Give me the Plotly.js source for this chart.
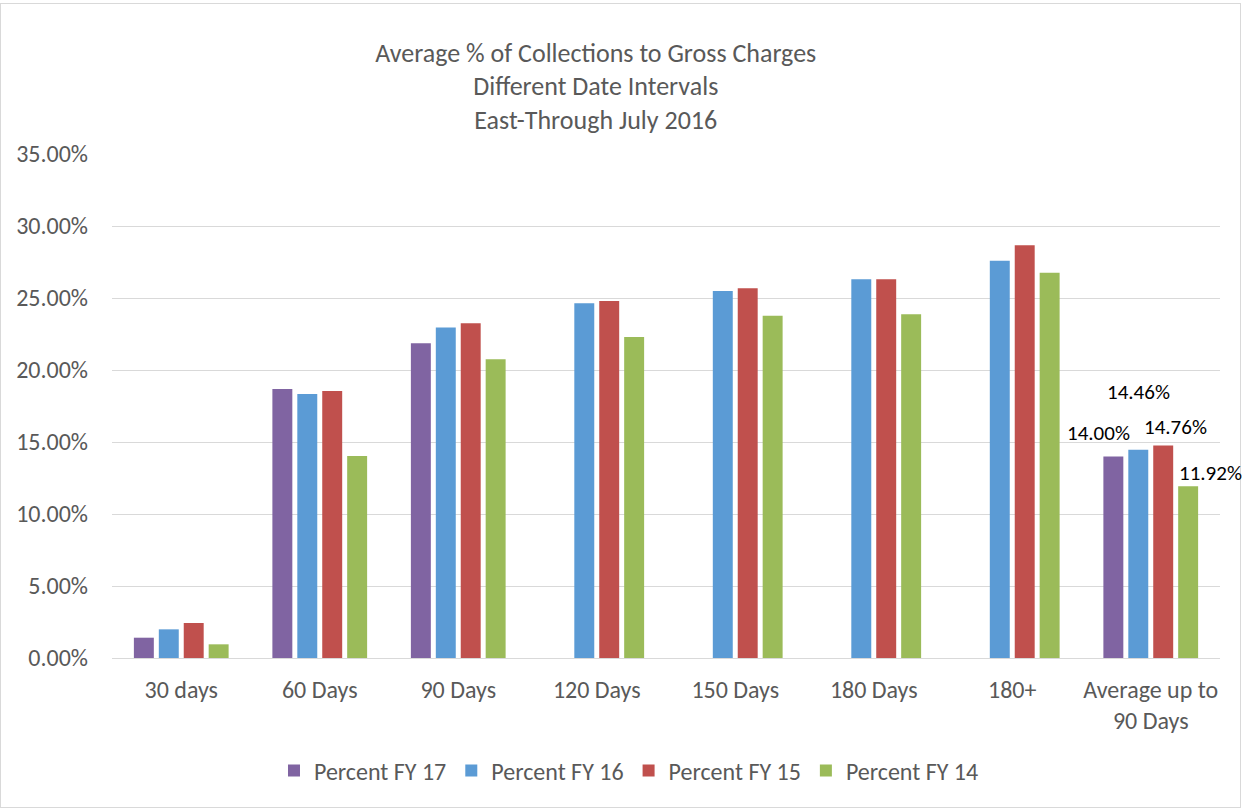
<!DOCTYPE html>
<html>
<head>
<meta charset="utf-8">
<script src="https://cdn.plot.ly/plotly-3.0.1.min.js"></script>
<style>
  html, body { margin: 0; padding: 0; background: #fff; }
  #frame { position: absolute; left: 0; top: 3px; width: 1239px; height: 803px; border: 1px solid #D9D9D9; }
  #chart { position: absolute; left: 0; top: 0; width: 1249px; height: 810px; }
</style>
</head>
<body>
<div id="frame"></div>
<div id="chart"></div>
<script>
const categories = ["30 days", "60 Days", "90 Days", "120 Days", "150 Days", "180 Days", "180+", "Average up to<br>90 Days"];
const seriesNames = ["Percent FY 17", "Percent FY 16", "Percent FY 15", "Percent FY 14"];
const fy17 = [1.41, 18.68, 21.85, null, null, null, null, 14.00];
const fy16 = [1.99, 18.33, 22.96, 24.64, 25.49, 26.30, 27.59, 14.46];
const fy15 = [2.43, 18.54, 23.24, 24.79, 25.67, 26.30, 28.66, 14.76];
const fy14 = [0.95, 14.03, 20.74, 22.29, 23.77, 23.87, 26.76, 11.92];
const yTicks = [0, 5, 10, 15, 20, 25, 30, 35];

const colors = ["#8064A2", "#5B9BD5", "#C0504D", "#9BBB59"];
const allSeries = [fy17, fy16, fy15, fy14];
const FONT = "Calibri, Carlito, Lato, 'Open Sans', sans-serif";

const traces = allSeries.map((vals, i) => ({
  type: "bar",
  name: seriesNames[i],
  x: categories,
  y: vals,
  marker: { color: colors[i], line: { width: 0 } },
  hoverinfo: "x+y+name"
}));

// data labels on the last category only
const lastIdx = categories.length - 1;
const labelOffsets = [
  { xs: -52, ys: 23 },
  { xs: -12, ys: 58 },
  { xs: 25, ys: 18 },
  { xs: 60, ys: 13 }
];
const annotations = allSeries.map((vals, i) => ({
  x: categories[lastIdx],
  y: vals[lastIdx],
  xref: "x", yref: "y",
  text: vals[lastIdx].toFixed(2) + "%",
  showarrow: false,
  xshift: labelOffsets[i].xs,
  yshift: labelOffsets[i].ys,
  font: { family: FONT, size: 21, color: "#000000" }
}));

const layout = {
  width: 1249, height: 810,
  paper_bgcolor: "rgba(0,0,0,0)",
  plot_bgcolor: "rgba(0,0,0,0)",
  margin: { l: 112, r: 29, t: 154, b: 152 },
  title: {
    text: "Average % of Collections to Gross Charges<br>Different Date Intervals<br>East-Through July 2016",
    font: { family: FONT, size: 26, color: "#595959" },
    x: 0.477, xanchor: "center",
    y: 0.924, yanchor: "top"
  },
  barmode: "group",
  bargap: 0.28,
  bargroupgap: 0.2,
  xaxis: {
    type: "category",
    range: [-0.5, categories.length - 0.5],
    autorange: false,
    showgrid: false,
    showline: true,
    linecolor: "#D9D9D9",
    linewidth: 1,
    ticks: "",
    ticklabelstandoff: 10,
    tickfont: { family: FONT, size: 24, color: "#595959" },
    fixedrange: true
  },
  yaxis: {
    range: [0, 35],
    autorange: false,
    tickvals: yTicks,
    ticktext: yTicks.map(v => v.toFixed(2) + "%"),
    showgrid: true,
    gridcolor: "#D9D9D9",
    gridwidth: 1,
    zeroline: false,
    showline: false,
    ticks: "",
    ticklen: 0,
    ticklabelstandoff: 23,
    tickfont: { family: FONT, size: 24, color: "#595959" },
    fixedrange: true
  },
  legend: {
    orientation: "h",
    x: 0.4666, xanchor: "center",
    y: -0.224, yanchor: "middle",
    font: { family: FONT, size: 24, color: "#595959" },
    itemwidth: 30,
    traceorder: "normal"
  },
  annotations: annotations,
  showlegend: true
};

Plotly.newPlot("chart", traces, layout, { displayModeBar: false, staticPlot: true });
</script>
</body>
</html>
